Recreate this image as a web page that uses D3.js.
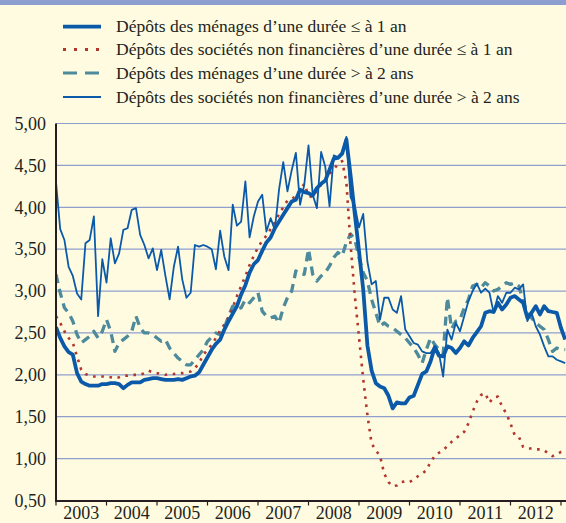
<!DOCTYPE html>
<html>
<head>
<meta charset="utf-8">
<script src="https://cdn.jsdelivr.net/npm/d3@7"></script>
<style>
  html, body { margin: 0; padding: 0; background: #FFFBE1; }
  svg { display: block; }
</style>
</head>
<body>
<svg id="chart" width="566" height="523"></svg>
<script>
// Monthly series, January 2003 onwards (one value per month)
const startYear = 2003;
const years = [2003, 2004, 2005, 2006, 2007, 2008, 2009, 2010, 2011, 2012];
const yTicks = [0.5, 1, 1.5, 2, 2.5, 3, 3.5, 4, 4.5, 5];

const seriesNames = [
  "Dépôts des ménages d\u2019une durée \u2264 à 1 an",
  "Dépôts des sociétés non financières d\u2019une durée \u2264 à 1 an",
  "Dépôts des ménages d\u2019une durée > à 2 ans",
  "Dépôts des sociétés non financières d\u2019une durée > à 2 ans"
];

const menagesCourt = [
  2.57, 2.44, 2.34, 2.27, 2.24, 2.02, 1.92, 1.89, 1.87, 1.87, 1.87, 1.89,
  1.89, 1.90, 1.90, 1.89, 1.84, 1.88, 1.91, 1.91, 1.91, 1.94, 1.95, 1.96,
  1.96, 1.95, 1.94, 1.94, 1.94, 1.95, 1.94, 1.96, 1.98, 1.99, 2.03, 2.12,
  2.21, 2.30, 2.37, 2.42, 2.54, 2.64, 2.73, 2.82, 2.96, 3.07, 3.22, 3.32,
  3.37, 3.48, 3.58, 3.64, 3.75, 3.83, 3.91, 3.99, 4.07, 4.09, 4.21, 4.18,
  4.17, 4.14, 4.23, 4.28, 4.32, 4.45, 4.58, 4.59, 4.64, 4.81, 4.38, 3.92,
  3.48, 3.02, 2.35, 2.05, 1.90, 1.86, 1.84, 1.75, 1.60, 1.67, 1.66, 1.66,
  1.73, 1.75, 1.88, 2.01, 2.04, 2.16, 2.33, 2.23, 2.22, 2.34, 2.32, 2.26,
  2.32, 2.40, 2.35, 2.44, 2.51, 2.58, 2.74, 2.76, 2.75, 2.86, 2.78, 2.84,
  2.92, 2.94, 2.90, 2.86, 2.68, 2.74, 2.82, 2.72, 2.82, 2.76, 2.75, 2.74,
  2.56, 2.42
];

const snfCourt = [
  2.70, 2.62, 2.52, 2.44, 2.38, 2.22, 2.06, 2.01, 1.99, 1.98, 1.98, 1.98,
  1.98, 1.97, 1.96, 1.97, 1.99, 1.99, 2.00, 2.00, 2.00, 2.02, 2.05, 2.03,
  2.02, 2.01, 2.00, 2.01, 2.01, 2.02, 2.02, 2.03, 2.04, 2.08, 2.14, 2.24,
  2.30, 2.36, 2.44, 2.53, 2.60, 2.69, 2.80, 2.94, 3.06, 3.18, 3.31, 3.42,
  3.52, 3.60, 3.66, 3.74, 3.82, 3.92, 4.00, 4.08, 4.10, 4.13, 4.20, 4.28,
  4.14, 4.12, 4.20, 4.27, 4.31, 4.40, 4.45, 4.52, 4.55, 4.30, 3.55, 2.95,
  2.45, 1.95, 1.52, 1.18, 1.10, 1.03, 0.82, 0.72, 0.67, 0.68, 0.72, 0.73,
  0.72, 0.75, 0.79, 0.82, 0.86, 0.96, 1.03, 1.07, 1.10, 1.15, 1.20, 1.24,
  1.28, 1.32, 1.42, 1.56, 1.68, 1.76, 1.78, 1.67, 1.73, 1.74, 1.62, 1.54,
  1.42, 1.28, 1.26, 1.14, 1.12, 1.12, 1.11, 1.11, 1.10, 1.06, 1.03, 1.05,
  1.08, 1.09
];

const menagesLong = [
  3.20, 2.98, 2.80, 2.74, 2.64, 2.48, 2.38, 2.42, 2.46, 2.52, 2.44, 2.52,
  2.66, 2.52, 2.28, 2.38, 2.42, 2.46, 2.52, 2.70, 2.56, 2.50, 2.50, 2.48,
  2.44, 2.40, 2.42, 2.32, 2.26, 2.20, 2.16, 2.12, 2.12, 2.18, 2.24, 2.30,
  2.40, 2.45, 2.50, 2.48, 2.56, 2.70, 2.82, 2.78, 2.80, 2.90, 2.86, 2.92,
  2.98, 2.76, 2.70, 2.68, 2.70, 2.62, 2.80, 2.92, 3.00, 3.24, 3.20, 3.20,
  3.50, 3.20, 3.12, 3.18, 3.22, 3.30, 3.40, 3.46, 3.42, 3.58, 3.68, 3.62,
  3.40, 3.22, 3.12, 2.90, 2.74, 2.58, 2.62, 2.58, 2.56, 2.52, 2.48, 2.44,
  2.38, 2.32, 2.24, 2.14, 2.30, 2.44, 2.36, 2.30, 2.25, 2.92, 2.55, 2.64,
  2.66, 2.80, 2.90, 3.06, 3.08, 3.04, 3.10, 3.06, 3.00, 3.02, 3.06, 3.10,
  3.08, 3.10, 3.06, 2.88, 2.74, 2.68, 2.62, 2.58, 2.54, 2.42, 2.28, 2.32,
  2.30, 2.30
];

const snfLong = [
  4.30, 3.74, 3.61, 3.29, 3.18, 2.97, 2.90, 3.57, 3.61, 3.89, 2.70, 3.38,
  3.10, 3.63, 3.33, 3.45, 3.73, 3.75, 3.97, 3.99, 3.67, 3.55, 3.39, 3.51,
  3.25, 3.49, 3.18, 2.90, 3.29, 3.53, 3.14, 2.92, 2.98, 3.55, 3.53, 3.55,
  3.53, 3.50, 3.26, 3.72, 3.41, 3.25, 4.03, 3.78, 3.83, 4.31, 3.64, 3.89,
  4.07, 4.15, 3.71, 3.87, 3.73, 4.21, 4.54, 4.19, 4.44, 4.65, 4.03, 4.27,
  4.74, 4.15, 3.99, 4.66, 4.48, 4.01, 4.62, 4.60, 4.66, 4.84, 4.12, 4.02,
  3.76, 3.92, 3.35, 3.08, 3.12, 2.66, 2.92, 2.92, 2.78, 2.74, 2.94, 2.54,
  2.46, 2.38, 2.36, 2.28, 2.26, 2.26, 2.34, 2.26, 1.98, 2.54, 2.42, 2.62,
  2.52, 2.70, 2.88, 3.00, 3.09, 2.98, 3.03, 2.98, 2.74, 2.94, 2.86, 2.98,
  2.98, 3.04, 3.02, 3.08, 2.64, 2.74, 2.58, 2.48, 2.34, 2.22, 2.22, 2.18,
  2.16, 2.14
];

// Drawing styles for each series, in legend order
const styles = [
  { color: "#0B5AAA", width: 3.8, dash: null },
  { color: "#B2362D", width: 2.6, dash: "2.6,5.6" },
  { color: "#4C8A9C", width: 3.3, dash: "9,6" },
  { color: "#0B5AAA", width: 1.8, dash: null }
];
const seriesData = [menagesCourt, snfCourt, menagesLong, snfLong];

const FONT = "'Liberation Serif', 'Times New Roman', 'DejaVu Serif', serif";
const TEXT_COLOR = "#231F20";

const svg = d3.select("#chart");
const W = 566;
const plot = { left: 56, right: 566, top: 123.5, bottom: 500.5 };

// top band
svg.append("rect").attr("x", 0).attr("y", 0).attr("width", W).attr("height", 5)
  .attr("fill", "#8C9ED0");

// scales: x in months since January 2003, y in percent
const x = d3.scaleLinear().domain([0, 120]).range([plot.left, 561]);
const y = d3.scaleLinear().domain([0.5, 5]).range([plot.bottom, plot.top]);

// horizontal gridlines
svg.append("g").selectAll("line").data(yTicks.filter(v => v > 0.5)).join("line")
  .attr("x1", plot.left).attr("x2", plot.right)
  .attr("y1", d => y(d)).attr("y2", d => y(d))
  .attr("stroke", "#8E9FCC").attr("stroke-width", 1.2);

// y axis labels
const fmt = v => v.toFixed(2).replace(".", ",");
svg.append("g").selectAll("text").data(yTicks).join("text")
  .attr("x", 46).attr("y", d => y(d)).attr("dy", "0.35em")
  .attr("text-anchor", "end")
  .attr("font-family", FONT).attr("font-size", 18).attr("fill", TEXT_COLOR)
  .text(fmt);

// clip region for the series
svg.append("clipPath").attr("id", "plotClip").append("rect")
  .attr("x", plot.left).attr("y", plot.top - 10)
  .attr("width", plot.right - plot.left).attr("height", plot.bottom - plot.top + 10);

const line = d3.line().x((d, i) => x(i)).y(d => y(d));

const gSeries = svg.append("g").attr("clip-path", "url(#plotClip)");
// draw order: dashed, dotted, thin, thick on top
[2, 1, 3, 0].forEach(k => {
  const s = styles[k];
  gSeries.append("path").datum(seriesData[k])
    .attr("d", line)
    .attr("fill", "none")
    .attr("stroke", s.color)
    .attr("stroke-width", s.width)
    .attr("stroke-linejoin", "round")
    .attr("stroke-dasharray", s.dash);
});

// axes lines
svg.append("line").attr("x1", plot.left).attr("x2", plot.left)
  .attr("y1", plot.top).attr("y2", plot.bottom + 1)
  .attr("stroke", TEXT_COLOR).attr("stroke-width", 2);
svg.append("line").attr("x1", plot.left - 1).attr("x2", plot.right)
  .attr("y1", plot.bottom + 0.5).attr("y2", plot.bottom + 0.5)
  .attr("stroke", TEXT_COLOR).attr("stroke-width", 2);

// year ticks and labels
const tickMonths = d3.range(0, 121, 12);
svg.append("g").selectAll("line").data(tickMonths).join("line")
  .attr("x1", d => x(d)).attr("x2", d => x(d))
  .attr("y1", plot.bottom).attr("y2", plot.bottom + 5)
  .attr("stroke", TEXT_COLOR).attr("stroke-width", 1.2);
svg.append("g").selectAll("text").data(years).join("text")
  .attr("x", d => x((d - startYear) * 12 + 6))
  .attr("y", 519)
  .attr("text-anchor", "middle")
  .attr("font-family", FONT).attr("font-size", 18).attr("fill", TEXT_COLOR)
  .text(d => d);

// legend
const legend = svg.append("g");
const legendY = [26.7, 49.5, 73, 97];
seriesNames.forEach((name, k) => {
  const s = styles[k];
  const g = legend.append("g").attr("transform", `translate(0,${legendY[k]})`);
  let dash = s.dash;
  if (k === 1) dash = "3,8";
  if (k === 2) dash = "14,8";
  g.append("line").attr("x1", 63).attr("x2", 101).attr("y1", 0).attr("y2", 0)
    .attr("stroke", s.color).attr("stroke-width", k === 0 ? 3.8 : (k === 3 ? 2 : 3))
    .attr("stroke-dasharray", dash);
  g.append("text").attr("x", 116).attr("y", 0).attr("dy", "0.32em")
    .attr("font-family", FONT).attr("font-size", 17.5).attr("fill", TEXT_COLOR)
    .text(name);
});
</script>
</body>
</html>
